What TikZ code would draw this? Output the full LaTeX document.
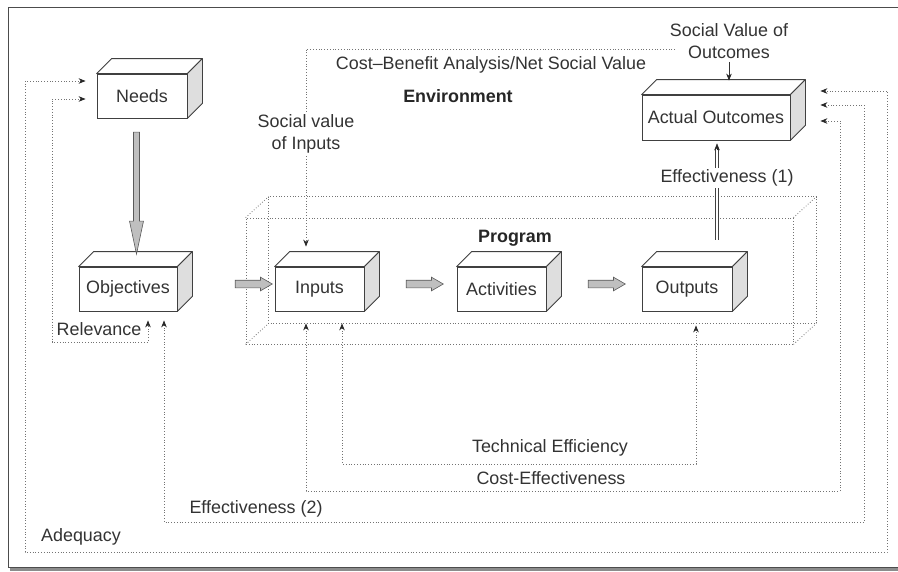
\documentclass[tikz,border=0pt]{standalone}
\usepackage{fontspec}
\setmainfont{Liberation Sans}
\usetikzlibrary{arrows.meta,calc,shapes.arrows}

\tikzset{
  blk/.style={draw=black!75, fill=white, line width=0.8pt, minimum height=44pt, inner sep=0pt, text=black!80},
  face/.style={draw=black!75, fill=white, line width=0.8pt, line join=round},
  fb/.style={draw=black!55, dotted, line width=0.8pt},
  flow/.style={single arrow, draw=black!65, fill=black!25, line width=0.6pt, minimum height=37pt, inner xsep=0pt, inner ysep=3.5pt, single arrow head extend=3pt, single arrow tip angle=60},
  lbl/.style={text=black!80},
  ttl/.style={text=black!85, font=\fontsize{17.9}{21.5}\selectfont\bfseries}
}

\begin{document}
\begin{tikzpicture}[x=1pt,y=-1pt, font=\fontsize{17.9}{21.5}\selectfont, >={Stealth[length=7pt,width=5.5pt,color=black!85]}]
\useasboundingbox (0,0) rectangle (898,571);
\draw[black!45, line width=4pt] (10,569) -- (898,569);
\draw[black!70, line width=1pt] (898,7) -- (8,7) -- (8,567) -- (898,567);

\node[blk, minimum width=90pt] (needs) at (142,96) {Needs};
\node[blk, minimum width=98pt] (obj) at (128,289) {Objectives};
\node[blk, minimum width=89pt] (inp) at (319.5,289) {Inputs};
\node[blk, minimum width=89pt] (act) at (501.5,289) {Activities};
\node[blk, minimum width=90pt] (outp) at (687,289) {Outputs};
\node[blk, minimum width=148pt, minimum height=45pt] (outc) at (716,117.5) {Actual Outcomes};
\foreach \n in {needs,obj,inp,act,outp,outc} {
  \draw[face] (\n.north west) -- ++(15,-15) -- ($(\n.north east)+(15,-15)$) -- (\n.north east) -- cycle;
  \draw[face, fill=black!13] (\n.north east) -- ++(15,-15) -- ($(\n.south east)+(15,-15)$) -- (\n.south east) -- cycle;
}

\node[fb, minimum width=547pt, minimum height=126pt] (prog) at (519.5,281) {};
\draw[fb] ($(prog.north west)+(23,-21)$) rectangle ($(prog.south east)+(23,-21)$);
\foreach \c in {north west,north east,south west,south east}
  \draw[fb] (prog.\c) -- ++(23,-21);
\node[ttl] (progl) at (515,238) {Program};

\node[flow, minimum height=122pt, inner ysep=2.7pt, single arrow head extend=4pt, single arrow tip angle=24, rotate=-90] (f0) at (136.5,186) {};
\foreach \x/\n in {250.5/f1,421.5/f2,603.5/f3}
  \node[flow] (\n) at (\x,284) {};

\draw[fb,<->, shorten <=11pt, shorten >=9pt] ([yshift=-3pt]needs.west) -| (52,342) -| ([xshift=20pt]obj.south);
\draw[fb,<->, shorten <=11pt] ([yshift=15pt]needs.west) -| (25,552) -| (887,91) -- ([xshift=30pt,yshift=26.5pt]outc.east);
\draw[fb,<->, shorten <=9pt] ([xshift=36pt]obj.south) |- (864,522) |- ([xshift=30pt,yshift=12.5pt]outc.east);
\draw[fb,<->, shorten <=12pt] ([xshift=-13.5pt]inp.south) |- (840,491) |- ([xshift=30pt,yshift=-3.5pt]outc.east);
\draw[fb,<->, shorten <=12pt, shorten >=14pt] ([xshift=22.5pt]inp.south) |- (696,464) -- ([xshift=9pt]outp.south);

\coordinate (cb) at (675,49);
\draw[fb,->, shorten >=20pt] (cb) -| ([xshift=-13.5pt]inp.north);
\node[lbl, align=center, fill=white, inner sep=1pt] (svi) at (306,134) {Social value\\of Inputs};

\node[lbl, align=center] (svo) at (729,41) {Social Value of\\Outcomes};
\draw[black!80, line width=0.7pt, ->] (svo) -- ([xshift=13pt,yshift=14pt]outc.north);

\draw[black!75, double, double distance=2.5pt, line width=0.6pt] ([xshift=30pt,yshift=27pt]outp.north) -- ([xshift=1pt,yshift=-8pt]outc.south);
\draw[black!85, line width=0.4pt, ->] ([xshift=1pt,yshift=-10pt]outc.south) -- ([xshift=1pt,yshift=-3pt]outc.south);
\node[lbl, fill=white, inner sep=2pt] (eff1) at (727,178) {Effectiveness (1)};

\node[lbl] (cbl) at (491,65) {Cost–Benefit Analysis/Net Social Value};
\node[ttl] (env) at (458,96) {Environment};
\node[lbl] (rel) at (99,329) {Relevance};
\node[lbl] (eff2) at (256,509) {Effectiveness (2)};
\node[lbl] (adq) at (81,537) {Adequacy};
\node[lbl] (tech) at (550,448) {Technical Efficiency};
\node[lbl] (ce) at (551,478) {Cost-Effectiveness};
\end{tikzpicture}
\end{document}
